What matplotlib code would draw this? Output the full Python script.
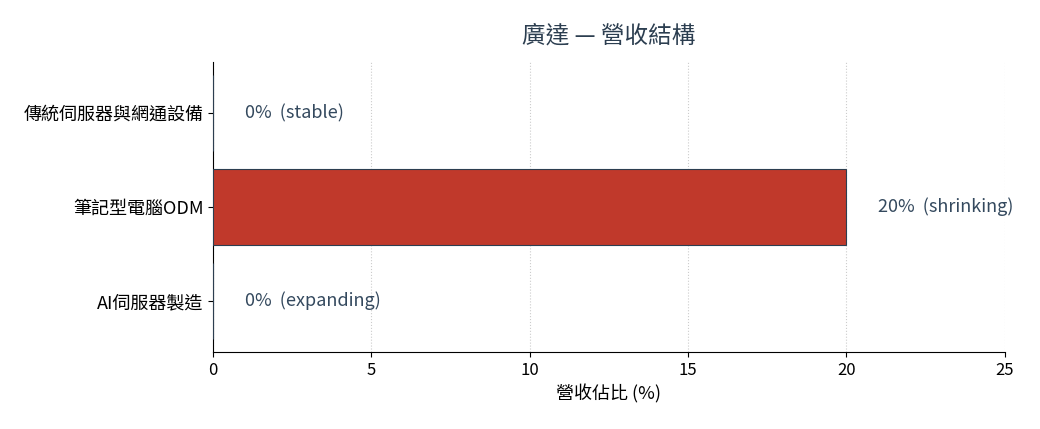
import matplotlib
matplotlib.use("Agg")
import matplotlib.pyplot as plt

plt.rcParams['font.family'] = ['Noto Sans CJK TC', 'DejaVu Sans']

# -------------------- DATA --------------------
segments = ['AI伺服器製造', '筆記型電腦ODM', '傳統伺服器與網通設備']
shares = [0, 20, 0]
trends = ['expanding', 'shrinking', 'stable']

# -------------------- PLOT --------------------
fig, ax = plt.subplots(figsize=(10.4, 4.29), dpi=100)
fig.subplots_adjust(left=0.205, right=0.966, top=0.855, bottom=0.18)

ax.barh(segments, shares, height=0.8, color='#c0392b', edgecolor='#2c3e50', linewidth=0.8, zorder=3)

# value labels next to each bar
for i, (v, t) in enumerate(zip(shares, trends)):
    ax.text(v + 1, i, f"{v}%  ({t})", va='center', ha='left', fontsize=13, color='#34495e')

ax.set_xlim(0, 25)
ax.set_xticks([0, 5, 10, 15, 20, 25])
ax.set_xlabel('營收佔比 (%)', fontsize=13)
ax.set_title('廣達 — 營收結構', fontsize=17, fontweight='medium', color='#2c3e50', pad=14)

ax.grid(axis='x', linestyle=':', color='#cccccc', linewidth=0.8, zorder=0)
ax.spines['top'].set_visible(False)
ax.spines['right'].set_visible(False)
ax.tick_params(axis='x', labelsize=12)
ax.tick_params(axis='y', labelsize=13)

plt.savefig('out.png', dpi=100)
